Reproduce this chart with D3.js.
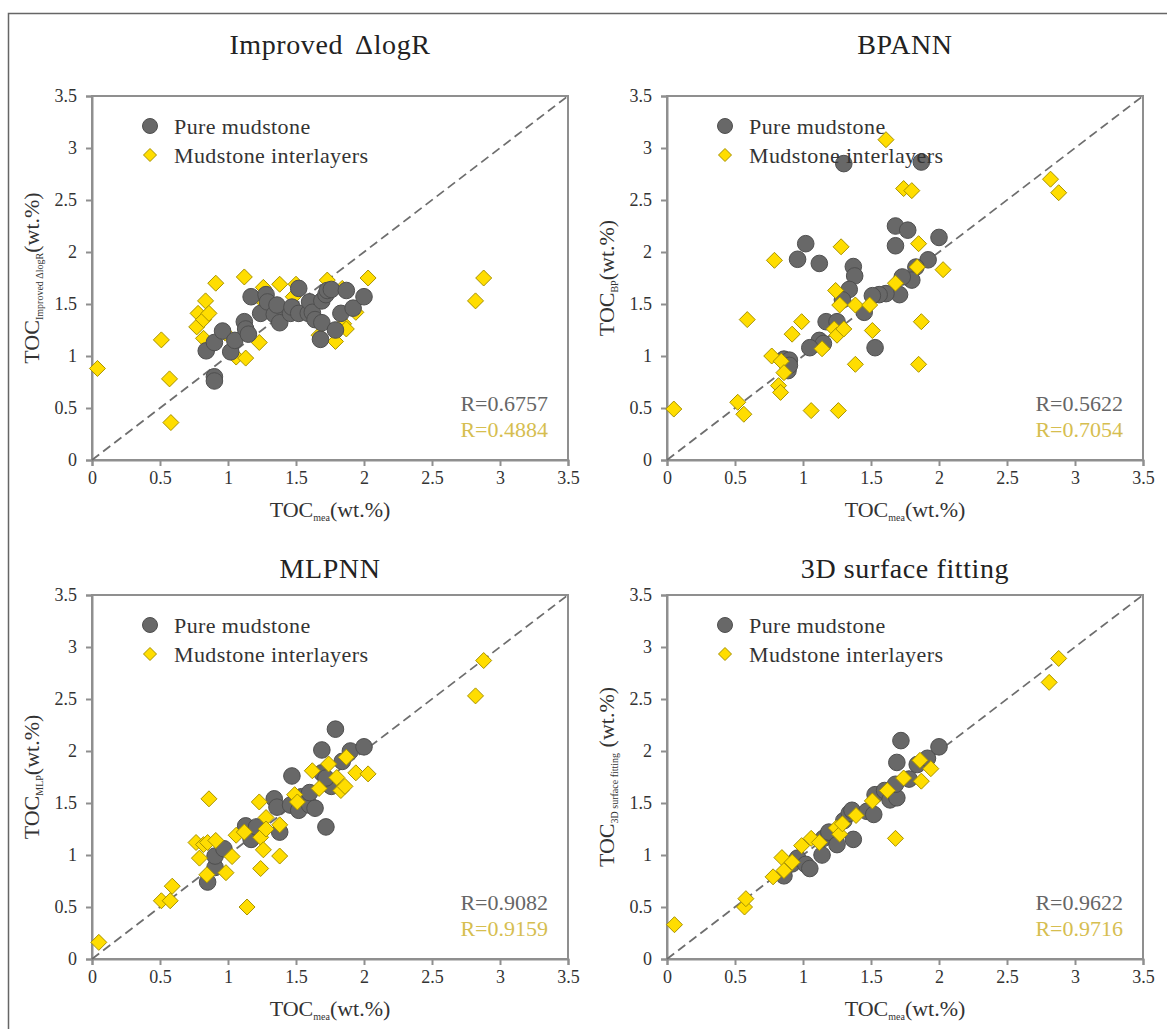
<!DOCTYPE html>
<html>
<head>
<meta charset="utf-8">
<script src="https://cdn.jsdelivr.net/npm/d3@7"></script>
<style>
  body { margin: 0; background: #fff; }
  text { font-family: "Liberation Serif", "Times New Roman", serif; }
</style>
</head>
<body>
<div id="chart"></div>
<script>
// panel titles, subscripts and R values
const panelTitles = ["Improved \u0394logR", "BPANN", "MLPNN", "3D surface fitting"];
const ySubs = ["Improved \u0394logR", "BP", "MLP", "3D surface fitting"];
const rPure = ["R=0.6757", "R=0.5622", "R=0.9082", "R=0.9622"];
const rInter = ["R=0.4884", "R=0.7054", "R=0.9159", "R=0.9716"];
const ticks = [0, 0.5, 1, 1.5, 2, 2.5, 3, 3.5];
const legendLabels = ["Pure mudstone", "Mudstone interlayers"];

// [TOC measured, TOC predicted]
const logrPure = [[0.90,0.80],[0.90,0.76],[0.84,1.05],[0.90,1.13],[0.96,1.24],[1.02,1.04],[1.05,1.15],[1.12,1.33],[1.13,1.26],[1.15,1.21],[1.17,1.57],[1.24,1.41],[1.28,1.59],[1.29,1.52],[1.34,1.40],[1.36,1.49],[1.38,1.32],[1.46,1.41],[1.47,1.47],[1.52,1.65],[1.52,1.41],[1.59,1.41],[1.60,1.52],[1.62,1.42],[1.64,1.35],[1.68,1.16],[1.69,1.32],[1.69,1.53],[1.72,1.59],[1.73,1.63],[1.76,1.64],[1.79,1.25],[1.83,1.41],[1.87,1.63],[1.92,1.46],[2.00,1.57]];
const logrInter = [[0.04,0.88],[0.51,1.155],[0.57,0.78],[0.58,0.36],[0.77,1.28],[0.78,1.41],[0.82,1.35],[0.835,1.53],[0.82,1.17],[0.86,1.41],[0.91,1.70],[0.98,1.22],[1.06,0.99],[1.13,0.98],[1.12,1.76],[1.23,1.13],[1.26,1.66],[1.24,1.55],[1.38,1.69],[1.48,1.57],[1.50,1.69],[1.73,1.73],[1.67,1.20],[1.79,1.14],[1.84,1.65],[1.85,1.31],[1.87,1.26],[1.94,1.42],[2.03,1.75],[2.82,1.53],[2.88,1.75]];

const bpPure = [[1.30,2.85],[1.87,2.865],[0.96,1.93],[1.02,2.08],[1.12,1.89],[1.37,1.86],[1.38,1.77],[1.34,1.64],[1.29,1.54],[1.68,2.25],[1.77,2.21],[1.68,2.06],[2.00,2.14],[1.92,1.925],[1.83,1.855],[1.80,1.73],[1.73,1.76],[1.71,1.59],[1.61,1.60],[1.56,1.59],[1.51,1.58],[1.45,1.42],[1.53,1.08],[1.17,1.33],[1.25,1.33],[1.12,1.15],[1.15,1.12],[1.05,1.08],[0.86,0.97],[0.90,0.96],[0.89,0.86],[0.90,0.91]];
const bpInter = [[0.05,0.49],[0.52,0.555],[0.565,0.44],[0.59,1.35],[0.77,1.00],[0.79,1.92],[0.82,0.715],[0.835,0.65],[0.84,0.95],[0.86,0.84],[0.92,1.21],[0.99,1.33],[1.06,0.475],[1.14,1.07],[1.24,1.63],[1.23,1.26],[1.25,1.20],[1.26,0.475],[1.28,2.05],[1.27,1.49],[1.30,1.26],[1.385,1.49],[1.385,0.92],[1.49,1.49],[1.51,1.245],[1.61,3.08],[1.68,1.70],[1.74,2.61],[1.80,2.59],[1.85,2.08],[1.84,1.855],[1.87,1.33],[1.85,0.92],[2.03,1.83],[2.82,2.70],[2.88,2.57]];

const mlpPure = [[0.85,0.74],[0.905,0.88],[0.905,0.99],[0.97,1.06],[1.13,1.28],[1.17,1.15],[1.21,1.27],[1.34,1.54],[1.36,1.46],[1.38,1.22],[1.47,1.76],[1.46,1.48],[1.52,1.43],[1.54,1.56],[1.60,1.48],[1.64,1.45],[1.60,1.60],[1.69,2.01],[1.72,1.27],[1.69,1.79],[1.74,1.68],[1.76,1.66],[1.79,2.21],[1.84,1.90],[1.90,2.00],[2.00,2.04],[1.72,1.74]];
const mlpInter = [[0.05,0.16],[0.51,0.56],[0.575,0.56],[0.59,0.70],[0.765,1.12],[0.79,0.97],[0.82,1.10],[0.845,0.81],[0.86,1.54],[0.85,1.12],[0.91,1.14],[0.985,0.83],[1.03,0.985],[1.06,1.19],[1.12,1.22],[1.14,0.50],[1.23,1.51],[1.24,1.17],[1.24,0.87],[1.26,1.05],[1.28,1.36],[1.28,1.25],[1.38,1.29],[1.38,0.99],[1.49,1.58],[1.51,1.51],[1.62,1.81],[1.67,1.64],[1.74,1.875],[1.80,1.745],[1.83,1.62],[1.86,1.66],[1.87,1.94],[1.94,1.79],[2.03,1.78],[2.82,2.53],[2.88,2.87]];

const fitPure = [[0.86,0.80],[0.92,0.915],[0.96,0.97],[1.02,0.91],[1.05,0.87],[1.14,1.00],[1.15,1.16],[1.19,1.22],[1.25,1.10],[1.30,1.33],[1.34,1.40],[1.37,1.15],[1.36,1.43],[1.47,1.42],[1.52,1.39],[1.53,1.58],[1.60,1.62],[1.64,1.53],[1.69,1.55],[1.69,1.89],[1.72,2.10],[1.68,1.68],[1.78,1.73],[1.84,1.87],[1.915,1.93],[2.00,2.04]];
const fitInter = [[0.055,0.33],[0.57,0.50],[0.58,0.58],[0.78,0.79],[0.845,0.975],[0.86,0.85],[0.92,0.93],[0.99,1.09],[1.06,1.16],[1.12,1.12],[1.245,1.26],[1.27,1.20],[1.29,1.30],[1.39,1.38],[1.51,1.52],[1.62,1.62],[1.68,1.16],[1.74,1.74],[1.86,1.91],[1.87,1.71],[1.94,1.83],[2.81,2.66],[2.88,2.89]];

const pureSets = [logrPure, bpPure, mlpPure, fitPure];
const interSets = [logrInter, bpInter, mlpInter, fitInter];

const W = 1167, H = 1029;
const pw = 476, ph = 364;
const origins = [[92, 96], [667, 96], [92, 595], [667, 595]];
const titleOffset = [-42, -42, -17, -17];

const axisColor = "#8f8f8f";
const grayFill = "#686868", grayStroke = "#4f4f4f";
const yellowFill = "#ffdd00", yellowStroke = "#a89200";

const svg = d3.select("#chart").append("svg")
    .attr("width", W)
    .attr("height", H);

// outer frame (top and left edge)
svg.append("path")
    .attr("d", `M8.5,${H} L8.5,13.5 L${W},13.5`)
    .attr("fill", "none")
    .attr("stroke", "#666")
    .attr("stroke-width", 1.5);

const diamond = s => `M0,${-s}L${s},0L0,${s}L${-s},0Z`;

panelTitles.forEach((title, i) => {
    const [ox, oy] = origins[i];
    const x = d3.scaleLinear().domain([0, 3.5]).range([0, pw]);
    const y = d3.scaleLinear().domain([0, 3.5]).range([ph, 0]);

    const g = svg.append("g").attr("transform", `translate(${ox},${oy})`);

    // title (a little extra room before the delta)
    const tt = g.append("text")
        .attr("x", pw / 2)
        .attr("y", titleOffset[i])
        .attr("text-anchor", "middle")
        .style("font-size", "28px")
        .style("letter-spacing", "0.6px")
        .attr("fill", "#222");
    const parts = title.split(" \u0394");
    tt.append("tspan").text(parts[0]);
    if (parts.length > 1) tt.append("tspan").attr("dx", 12).text("\u0394" + parts[1]);

    // frame
    g.append("rect")
        .attr("width", pw).attr("height", ph)
        .attr("fill", "#fff")
        .attr("stroke", axisColor)
        .attr("stroke-width", 2);

    // axes
    const xAxis = g.append("g")
        .attr("transform", `translate(0,${ph})`)
        .call(d3.axisBottom(x).tickValues(ticks).tickFormat(d3.format("")).tickSizeOuter(0).tickSize(6).tickPadding(5));
    const yAxis = g.append("g")
        .call(d3.axisLeft(y).tickValues(ticks).tickFormat(d3.format("")).tickSizeOuter(0).tickSize(6).tickPadding(9));
    [xAxis, yAxis].forEach(a => {
        a.attr("font-family", null);
        a.select(".domain").attr("stroke", axisColor).attr("stroke-width", 2);
        a.selectAll(".tick line").attr("stroke", axisColor).attr("stroke-width", 2);
        a.selectAll(".tick text")
            .style("font-family", "'Liberation Serif', serif")
            .style("font-size", "18px")
            .attr("fill", "#333");
    });

    // 1:1 line
    g.append("line")
        .attr("x1", x(0)).attr("y1", y(0))
        .attr("x2", x(3.5)).attr("y2", y(3.5))
        .attr("stroke", "#6e6e6e")
        .attr("stroke-width", 1.8)
        .attr("stroke-dasharray", "9,5");

    // points
    const drawPure = () => g.append("g").selectAll("circle")
        .data(pureSets[i]).join("circle")
        .attr("cx", d => x(d[0])).attr("cy", d => y(d[1]))
        .attr("r", 8.3)
        .attr("fill", grayFill)
        .attr("stroke", grayStroke)
        .attr("stroke-width", 1);
    const drawInter = () => g.append("g").selectAll("path")
        .data(interSets[i]).join("path")
        .attr("transform", d => `translate(${x(d[0])},${y(d[1])})`)
        .attr("d", diamond(8))
        .attr("fill", yellowFill)
        .attr("stroke", yellowStroke)
        .attr("stroke-width", 1);
    if (i === 0) { drawInter(); drawPure(); } else { drawPure(); drawInter(); }

    // legend
    const lg = g.append("g");
    lg.append("circle").attr("cx", 58).attr("cy", 30).attr("r", 7.5)
        .attr("fill", grayFill).attr("stroke", grayStroke);
    lg.append("path").attr("transform", "translate(58,59)").attr("d", diamond(6.5))
        .attr("fill", yellowFill).attr("stroke", yellowStroke);
    legendLabels.forEach((t, k) => {
        lg.append("text")
            .attr("x", 82).attr("y", 30 + k * 29)
            .attr("dy", "0.35em")
            .style("font-size", "22px")
            .style("letter-spacing", "0.4px")
            .attr("fill", "#333")
            .text(t);
    });

    // R values
    g.append("text")
        .attr("x", pw - 20).attr("y", 315)
        .attr("text-anchor", "end")
        .style("font-size", "22px")
        .attr("fill", "#666")
        .text(rPure[i]);
    g.append("text")
        .attr("x", pw - 20).attr("y", 341)
        .attr("text-anchor", "end")
        .style("font-size", "22px")
        .attr("fill", "#d6be50")
        .text(rInter[i]);

    // x label
    const xl = g.append("text")
        .attr("x", pw / 2).attr("y", ph + 57)
        .attr("text-anchor", "middle")
        .style("font-size", "22px")
        .attr("fill", "#333");
    xl.append("tspan").text("TOC");
    xl.append("tspan").attr("dy", 4).style("font-size", "10px").text("mea");
    xl.append("tspan").attr("dy", -4).text("(wt.%)");

    // y label
    const yl = g.append("text")
        .attr("transform", `translate(-53,${ph / 2}) rotate(-90)`)
        .attr("text-anchor", "middle")
        .style("font-size", "22px")
        .attr("fill", "#333");
    yl.append("tspan").text("TOC");
    yl.append("tspan").attr("dy", 4).style("font-size", "10px").text(ySubs[i]);
    yl.append("tspan").attr("dy", -4).text(i === 3 ? " (wt.%)" : "(wt.%)");
});
</script>
</body>
</html>
